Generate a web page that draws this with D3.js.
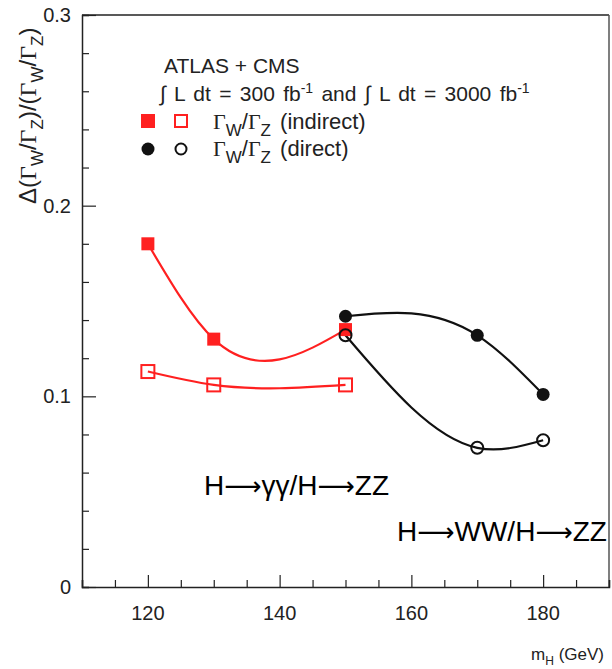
<!DOCTYPE html>
<html><head><meta charset="utf-8">
<script src="https://cdn.jsdelivr.net/npm/d3@7"></script>
<style>body{margin:0;background:#fff}svg{display:block}text{font-family:"Liberation Sans",Arial,sans-serif}</style>
</head><body>
<script>
const massIndirect = [120, 130, 150];
const indirectFilled = [0.180, 0.130, 0.135];
const indirectOpen = [0.113, 0.106, 0.106];
const massDirect = [150, 170, 180];
const directFilled = [0.142, 0.132, 0.101];
const directOpen = [0.132, 0.073, 0.077];
const xTicks = [120, 140, 160, 180];
const yTicks = [0, 0.1, 0.2, 0.3];
const yTickLabels = ["0", "0.1", "0.2", "0.3"];

// natural cubic spline in x (like ROOT's smooth "C" option)
function curveNaturalX(context) {
  return {
    areaStart() {}, areaEnd() {},
    lineStart() { this.X = []; this.Y = []; },
    point(x, y) { this.X.push(+x); this.Y.push(+y); },
    lineEnd() {
      const X = this.X, Y = this.Y, n = X.length;
      if (!n) return;
      context.moveTo(X[0], Y[0]);
      if (n === 1) return;
      if (n === 2) { context.lineTo(X[1], Y[1]); return; }
      const h = [], M = new Array(n).fill(0);
      for (let i = 0; i < n - 1; i++) h.push(X[i + 1] - X[i]);
      const a = [], b = [], c = [], r = [];
      for (let i = 1; i < n - 1; i++) {
        a.push(h[i - 1]); b.push(2 * (h[i - 1] + h[i])); c.push(h[i]);
        r.push(6 * ((Y[i + 1] - Y[i]) / h[i] - (Y[i] - Y[i - 1]) / h[i - 1]));
      }
      const m = b.length;
      for (let i = 1; i < m; i++) { const w = a[i] / b[i - 1]; b[i] -= w * c[i - 1]; r[i] -= w * r[i - 1]; }
      const sol = new Array(m);
      sol[m - 1] = r[m - 1] / b[m - 1];
      for (let i = m - 2; i >= 0; i--) sol[i] = (r[i] - c[i] * sol[i + 1]) / b[i];
      for (let i = 0; i < m; i++) M[i + 1] = sol[i];
      for (let i = 0; i < n - 1; i++) {
        const hi = h[i], s = (Y[i + 1] - Y[i]) / hi;
        const d0 = s - hi * (2 * M[i] + M[i + 1]) / 6;
        const d1 = s + hi * (M[i] + 2 * M[i + 1]) / 6;
        context.bezierCurveTo(X[i] + hi / 3, Y[i] + d0 * hi / 3, X[i + 1] - hi / 3, Y[i + 1] - d1 * hi / 3, X[i + 1], Y[i + 1]);
      }
    }
  };
}

const W = 612, H = 669;
const svg = d3.select("body").append("svg").attr("width", W).attr("height", H);
const x = d3.scaleLinear().domain([110, 190]).range([82, 609]);
const y = d3.scaleLinear().domain([0, 0.3]).range([587, 15]);

// frame
svg.append("line").attr("x1", x(110)).attr("x2", x(190)).attr("y1", y(0.3)).attr("y2", y(0.3)).attr("stroke", "#222").attr("stroke-width", 1.5);
svg.append("line").attr("x1", x(190)).attr("x2", x(190)).attr("y1", y(0.3)).attr("y2", y(0)).attr("stroke", "#555").attr("stroke-width", 1.5);

// axes (ticks inward)
const xAxis = d3.axisBottom(x).tickValues(d3.range(110, 190.1, 5)).tickSize(-7).tickFormat("");
const gx = svg.append("g").attr("transform", `translate(0,${y(0)})`).call(xAxis);
gx.selectAll(".tick line").attr("y2", d => xTicks.includes(d) ? -12 : -7);
const yAxis = d3.axisLeft(y).tickValues(d3.range(0, 0.3001, 0.02)).tickSize(-7).tickFormat("");
const gy = svg.append("g").attr("transform", `translate(${x(110)},0)`).call(yAxis);
gy.selectAll(".tick line").attr("x2", d => yTicks.some(t => Math.abs(t - d) < 1e-6) ? 14 : 7);
[gx, gy].forEach(g => { g.select(".domain").attr("stroke", "#222").attr("stroke-width", 1.5); g.selectAll(".tick line").attr("stroke", "#222").attr("stroke-width", 1.2); });

svg.selectAll(".xl").data(xTicks).enter().append("text").attr("x", d => x(d)).attr("y", 620)
  .attr("text-anchor", "middle").attr("font-size", 20).attr("fill", "#222").text(d => d);
svg.selectAll(".yl").data(yTicks).enter().append("text").attr("x", 71).attr("y", d => y(d) + 7)
  .attr("text-anchor", "end").attr("font-size", 20).attr("fill", "#222").text((d, i) => yTickLabels[i]);

// x label
const xl = svg.append("text").attr("x", 604).attr("y", 660).attr("text-anchor", "end").attr("font-size", 17).attr("fill", "#222");
xl.append("tspan").text("m");
xl.append("tspan").attr("font-size", 12).attr("dy", 5).text("H");
xl.append("tspan").attr("dy", -5).text(" (GeV)");

// y label
const yl = svg.append("text").attr("transform", "translate(36,204) rotate(-90)").attr("font-size", 24).attr("fill", "#222");
const parts = [["Δ(", 0], ["Γ", 0, 1], ["W", 1], ["/", 0], ["Γ", 0, 1], ["Z", 1], [")/(", 0], ["Γ", 0, 1], ["W", 1], ["/", 0], ["Γ", 0, 1], ["Z", 1], [")", 0]];
let prev = 0;
parts.forEach(([t, s, serif]) => {
  const ts = yl.append("tspan").attr("dy", (s - prev) * 7).attr("font-size", s ? 17 : 24).text(t);
  if (serif) ts.attr("font-family", "Liberation Serif");
  prev = s;
});

// curves
const line = d3.line().x(d => x(d[0])).y(d => y(d[1])).curve(curveNaturalX);
const series = [
  {m: massIndirect, v: indirectFilled, c: "#ff2020", filled: true, shape: "sq"},
  {m: massIndirect, v: indirectOpen, c: "#ff2020", filled: false, shape: "sq"},
  {m: massDirect, v: directFilled, c: "#111", filled: true, shape: "ci"},
  {m: massDirect, v: directOpen, c: "#111", filled: false, shape: "ci"}
];
series.forEach(s => {
  const pts = s.m.map((m, i) => [m, s.v[i]]);
  svg.append("path").attr("d", line(pts)).attr("fill", "none").attr("stroke", s.c).attr("stroke-width", 2.2);
});
series.forEach(s => {
  const pts = s.m.map((m, i) => [m, s.v[i]]);
  pts.forEach(p => {
    if (s.shape === "sq") {
      svg.append("rect").attr("x", x(p[0]) - 6.5).attr("y", y(p[1]) - 6.5).attr("width", 13).attr("height", 13)
        .attr("fill", s.filled ? s.c : "none").attr("stroke", s.c).attr("stroke-width", s.filled ? 0 : 2);
    } else {
      svg.append("circle").attr("cx", x(p[0])).attr("cy", y(p[1])).attr("r", s.filled ? 6.5 : 6)
        .attr("fill", s.filled ? s.c : "none").attr("stroke", s.c).attr("stroke-width", s.filled ? 0 : 2);
    }
  });
});

// legend
svg.append("text").attr("x", 164).attr("y", 73).attr("font-size", 21).attr("fill", "#222").text("ATLAS + CMS");
const lt = svg.append("text").attr("x", 160).attr("y", 101).attr("font-size", 21).attr("word-spacing", 2.5).attr("fill", "#222");
lt.append("tspan").text("∫ L dt = 300 fb");
lt.append("tspan").attr("dy", -8).attr("font-size", 14).text("-1");
lt.append("tspan").attr("dy", 8).text(" and ∫ L dt = 3000 fb");
lt.append("tspan").attr("dy", -8).attr("font-size", 14).text("-1");
svg.append("rect").attr("x", 141).attr("y", 114).attr("width", 14).attr("height", 14).attr("fill", "#ff2020");
svg.append("rect").attr("x", 175).attr("y", 115).attr("width", 12).attr("height", 12).attr("fill", "none").attr("stroke", "#ff2020").attr("stroke-width", 2);
svg.append("circle").attr("cx", 148).attr("cy", 149).attr("r", 6.5).attr("fill", "#111");
svg.append("circle").attr("cx", 181).attr("cy", 149).attr("r", 5.5).attr("fill", "none").attr("stroke", "#111").attr("stroke-width", 2);
[["(indirect)", 129], ["(direct)", 156]].forEach(([lab, yy]) => {
  const t = svg.append("text").attr("x", 213).attr("y", yy).attr("font-size", 22).attr("word-spacing", 3).attr("fill", "#222");
  t.append("tspan").attr("font-family", "Liberation Serif").text("Γ");
  t.append("tspan").attr("dy", 7).attr("font-size", 17).text("W");
  t.append("tspan").attr("dy", -7).text("/");
  t.append("tspan").attr("font-family", "Liberation Serif").text("Γ");
  t.append("tspan").attr("dy", 7).attr("font-size", 17).text("Z");
  t.append("tspan").attr("dy", -7).text(" " + lab);
});

// annotations
function annot(xx, yy, a, b) {
  const t = svg.append("text").attr("x", xx).attr("y", yy).attr("font-size", 28).attr("fill", "#000");
  t.append("tspan").text("H");
  t.append("tspan").attr("font-family", "DejaVu Sans").attr("font-size", 26).text("⟶");
  t.append("tspan").text(a + "/H");
  t.append("tspan").attr("font-family", "DejaVu Sans").attr("font-size", 26).text("⟶");
  t.append("tspan").text(b);
}
annot(204, 495, "γγ", "ZZ");
annot(397, 541, "WW", "ZZ");
</script>
</body></html>
